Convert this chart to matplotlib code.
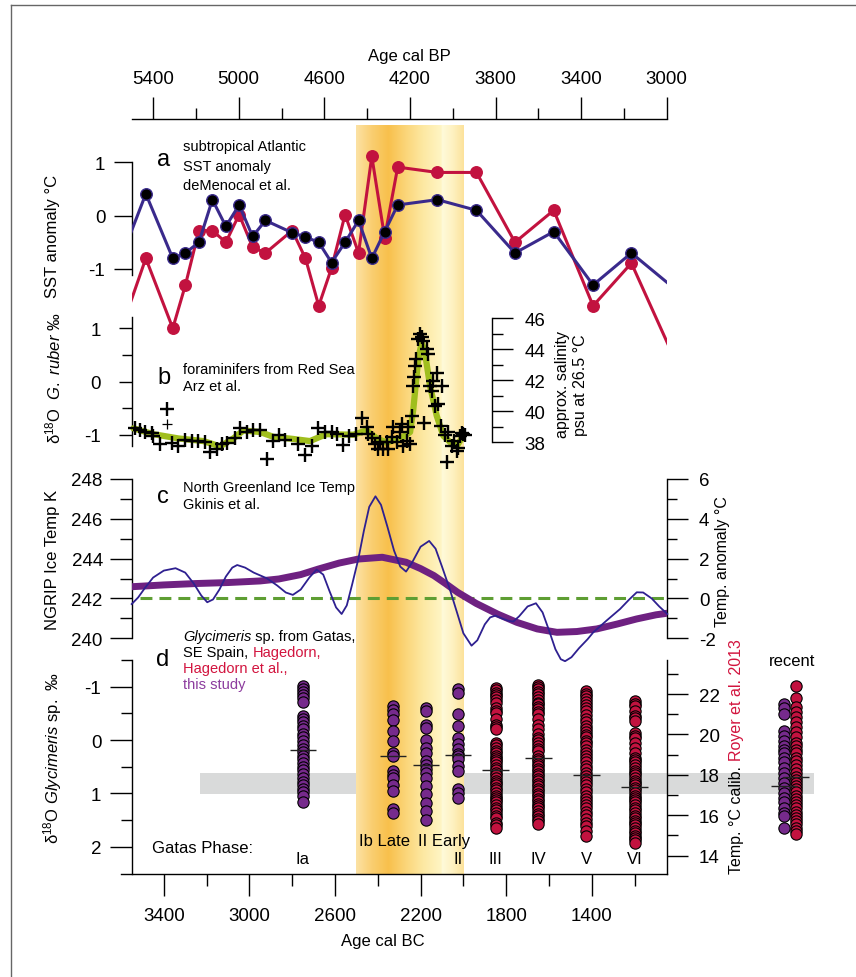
import numpy as np
import matplotlib
matplotlib.use('Agg')
import matplotlib.pyplot as plt
from matplotlib.patches import Rectangle
from matplotlib.lines import Line2D
from matplotlib.ticker import FixedLocator
from matplotlib.transforms import blended_transform_factory

plt.rcParams['font.family'] = ['Liberation Sans', 'DejaVu Sans']
plt.rcParams['axes.unicode_minus'] = False
plt.rcParams['mathtext.fontset'] = 'custom'
plt.rcParams['mathtext.rm'] = 'Liberation Sans'
plt.rcParams['mathtext.it'] = 'Liberation Sans:italic'

# ---------------- data ----------------
# x axis in years cal BC (cal BP = BC + 1950)
xlim_bc = (3550, 1050)
band_bc = (2500, 2000)

# panel a : subtropical Atlantic SST anomaly (first/last points: line only)
sst_blue_bc = [3600, 3484, 3358, 3299, 3236, 3173, 3110, 3048, 2985, 2925, 2800, 2738, 2676,
               2616, 2553, 2490, 2428, 2368, 2307, 2122, 1939, 1759, 1578, 1394, 1215, 1040]
sst_blue = [-0.80, 0.41, -0.80, -0.70, -0.50, 0.30, -0.20, 0.20, -0.39, -0.09, -0.32, -0.40, -0.50,
            -0.88, -0.50, -0.09, -0.80, -0.30, 0.20, 0.30, 0.10, -0.70, -0.30, -1.30, -0.70, -1.28]
sst_red_bc = [3600, 3484, 3358, 3299, 3236, 3173, 3110, 3048, 2985, 2925, 2800, 2738, 2676,
              2616, 2553, 2490, 2428, 2368, 2307, 2122, 1939, 1759, 1578, 1394, 1215, 1044]
sst_red = [-2.14, -0.80, -2.11, -1.30, -0.28, -0.28, -0.50, 0.02, -0.59, -0.70, -0.28, -0.80, -1.69,
           -0.98, 0.02, -0.70, 1.11, -0.41, 0.91, 0.81, 0.81, -0.50, 0.10, -1.69, -0.89, -2.41]

# panel b : d18O G. ruber, Red Sea
ruber_bc = [3535, 3511, 3488, 3457, 3449, 3418, 3363, 3332, 3301, 3270, 3239, 3207, 3184, 3153,
            3129, 3106, 3067, 3044, 3013, 2982, 2950, 2919, 2888, 2860, 2834, 2771, 2740, 2709,
            2678, 2647, 2615, 2592, 2564, 2533, 2502, 2475, 2449, 2444, 2429, 2413, 2398, 2390,
            2374, 2358, 2351, 2335, 2328, 2312, 2296, 2288, 2281, 2265, 2257, 2249, 2242, 2234,
            2230, 2226, 2221, 2211, 2203, 2195, 2187, 2185, 2172, 2164, 2156, 2149, 2141, 2133,
            2125, 2117, 2105, 2102, 2085, 2077, 2070, 2054, 2046, 2031, 2023, 2015, 2007, 2000, 1992]
ruber = [-0.88, -0.91, -0.95, -0.97, -1.02, -1.18, -1.16, -1.21, -1.10, -1.12, -1.12, -1.14, -1.32, -1.26,
         -1.18, -1.16, -1.07, -0.87, -0.95, -0.91, -0.91, -1.45, -1.12, -1.01, -1.10, -1.18, -1.39, -1.21,
         -0.88, -0.95, -0.95, -0.99, -1.20, -1.03, -0.99, -0.68, -0.85, -0.99, -1.07, -1.18, -1.27, -1.14,
         -1.27, -1.14, -1.27, -1.05, -0.85, -1.14, -0.95, -0.80, -1.22, -1.12, -0.86, -1.18, -0.64, -0.09,
         0.08, 0.29, 0.42, 0.80, 0.89, 0.83, 0.76, -0.78, 0.61, 0.51, -0.08, -0.17, 0.01, -0.46,
         0.16, -0.43, -0.84, -0.09, -1.01, -1.51, -0.95, -1.21, -1.12, -1.31, -1.25, -1.02, -0.96, -0.99, -1.01]
ruber_out_bc = [3386, 3386]
ruber_out = [-0.52, -0.80]
ruber_smooth_bc = [3542, 3449, 3332, 3215, 3137, 3075, 3028, 2950, 2888, 2795, 2717, 2670, 2639, 2514,
                   2452, 2405, 2358, 2281, 2249, 2234, 2211, 2195, 2180, 2156, 2125, 2094, 2062, 2031, 2000]
ruber_smooth = [-0.88, -0.99, -1.07, -1.12, -1.22, -1.07, -0.92, -0.95, -1.04, -1.08, -1.12, -1.04, -0.99, -1.00,
                -0.92, -1.07, -1.15, -1.04, -0.95, -0.52, 0.42, 0.73, 0.55, -0.08, -0.64, -1.02, -1.14, -1.21, -1.02]

# panel c : North Greenland ice temperature anomaly (K relative to 242 K)
ngrip_bc = [3550, 3520, 3490, 3450, 3400, 3345, 3300, 3260, 3225, 3197, 3170, 3140, 3110, 3080, 3057,
            3020, 2980, 2918, 2870, 2830, 2797, 2760, 2720, 2686, 2655, 2625, 2595, 2569, 2545, 2520,
            2491, 2465, 2440, 2411, 2385, 2355, 2324, 2295, 2268, 2240, 2200, 2160, 2130, 2100, 2064,
            2030, 2000, 1962, 1935, 1900, 1875, 1850, 1820, 1790, 1767, 1740, 1700, 1661, 1630, 1600,
            1570, 1545, 1525, 1495, 1460, 1420, 1393, 1330, 1268, 1225, 1190, 1160, 1120, 1085, 1047]
ngrip = [-0.28, 0.05, 0.50, 1.05, 1.40, 1.52, 1.30, 0.75, 0.15, -0.19, -0.05, 0.45, 1.10, 1.55, 1.68,
         1.55, 1.30, 1.01, 0.65, 0.30, 0.18, 0.45, 1.05, 1.45, 1.20, 0.35, -0.45, -0.78, -0.35, 0.70,
         1.98, 3.40, 4.60, 5.13, 4.70, 3.60, 2.40, 1.60, 1.35, 1.80, 2.60, 2.89, 2.50, 1.60, 0.48,
         -0.70, -1.75, -2.37, -2.10, -1.30, -0.95, -0.86, -1.00, -1.12, -1.16, -0.90, -0.40, -0.24, -0.70, -1.60,
         -2.55, -3.05, -3.15, -2.95, -2.50, -2.05, -1.70, -1.10, -0.53, -0.05, 0.31, 0.30, 0.00, -0.40, -0.78]
ngrip_smooth_bc = [3550, 3400, 3250, 3100, 2950, 2862, 2760, 2677, 2580, 2491, 2379, 2268, 2200, 2138,
                   2080, 2027, 1940, 1841, 1750, 1655, 1563, 1470, 1377, 1280, 1191, 1100, 1040]
ngrip_smooth = [0.59, 0.68, 0.75, 0.80, 0.88, 0.98, 1.20, 1.48, 1.78, 1.98, 2.07, 1.82, 1.50, 1.15,
                0.72, 0.31, -0.25, -0.78, -1.20, -1.53, -1.70, -1.66, -1.53, -1.28, -1.03, -0.82, -0.73]
ngrip_ref_kelvin = 242

# panel d : d18O Glycimeris sp. per Gatas phase
phase_bc = [2750, 2330, 2175, 2025, 1850, 1650, 1425, 1200]
phase_src = ['this', 'this', 'this', 'this', 'hag', 'hag', 'hag', 'hag']
gly_Ia = [-1.01, -0.96, -0.90, -0.84, -0.78, -0.72, -0.46, -0.40, -0.34, -0.27, -0.20, -0.12, -0.05, 0.02,
          0.09, 0.16, 0.22, 0.29, 0.36, 0.43, 0.50, 0.57, 0.64, 0.71, 0.78, 0.85, 0.92, 0.98, 1.05, 1.16]
gly_Ib = [-0.64, -0.56, -0.48, -0.38, -0.17, 0.02, 0.25, 0.30, 0.58, 0.66, 0.72, 0.85, 0.95, 1.30, 1.36]
gly_IIe = [-0.61, -0.54, -0.29, -0.22, -0.01, 0.14, 0.24, 0.39, 0.46, 0.55, 0.62, 0.71, 0.86, 1.02, 1.18, 1.33, 1.49]
gly_II = [-0.95, -0.88, -0.48, -0.26, -0.04, 0.08, 0.17, 0.27, 0.30, 0.36, 0.49, 0.58, 0.92, 1.00, 1.08]
gly_III = [-0.98, -0.94, -0.89, -0.85, -0.80, -0.75, -0.70, -0.61, -0.55, -0.51, -0.39, -0.29, -0.24, -0.20,
           0.05, 0.10, 0.14, 0.20, 0.24, 0.30, 0.33, 0.38, 0.42, 0.47, 0.52, 0.56, 0.61, 0.66, 0.71, 0.76,
           0.80, 0.85, 0.89, 0.94, 0.99, 1.04, 1.08, 1.13, 1.17, 1.22, 1.27, 1.31, 1.36, 1.42, 1.46, 1.55, 1.60, 1.64]
gly_IV = [-1.04, -0.99, -0.95, -0.90, -0.86, -0.80, -0.76, -0.70, -0.67, -0.62, -0.58, -0.52, -0.48, -0.39,
          -0.29, -0.20, -0.11, -0.04, -0.01, 0.05, 0.11, 0.16, 0.21, 0.30, 0.35, 0.39, 0.44, 0.49, 0.54, 0.58,
          0.63, 0.68, 0.73, 0.77, 0.82, 0.86, 0.91, 0.96, 1.01, 1.05, 1.10, 1.14, 1.19, 1.24, 1.28, 1.33, 1.38,
          1.43, 1.48, 1.52, 1.58]
gly_V = [-0.92, -0.87, -0.82, -0.77, -0.72, -0.66, -0.60, -0.54, -0.47, -0.40, -0.34, -0.27, -0.21, -0.15,
         -0.10, -0.05, 0.01, 0.06, 0.12, 0.18, 0.24, 0.30, 0.36, 0.42, 0.48, 0.55, 0.61, 0.67, 0.73, 0.79,
         0.85, 0.92, 0.98, 1.04, 1.10, 1.16, 1.22, 1.28, 1.34, 1.41, 1.48, 1.55, 1.62, 1.70, 1.80]
gly_VI = [-0.73, -0.68, -0.63, -0.54, -0.45, -0.42, -0.36, -0.14, -0.08, -0.04, 0.05, 0.14, 0.25, 0.33,
          0.38, 0.42, 0.47, 0.52, 0.58, 0.61, 0.66, 0.71, 0.76, 0.80, 0.85, 0.89, 0.94, 0.99, 1.04, 1.08,
          1.13, 1.17, 1.22, 1.27, 1.32, 1.36, 1.42, 1.46, 1.52, 1.55, 1.60, 1.64, 1.70, 1.74, 1.80, 1.83,
          1.88, 1.93]
phase_values = [gly_Ia, gly_Ib, gly_IIe, gly_II, gly_III, gly_IV, gly_V, gly_VI]
phase_medians = [0.19, 0.29, 0.47, 0.28, 0.57, 0.34, 0.66, 0.88]
phase_labels = ['Ia', 'Ib Late', 'II Early', 'II', 'III', 'IV', 'V', 'VI']
phase_label_bc = [2750, 2368, 2089, 2025, 1850, 1650, 1425, 1200]
phase_label_row = [0, 1, 1, 0, 0, 0, 0, 0]

recent_this = [-0.67, -0.60, -0.48, -0.17, -0.08, 0.02, 0.11, 0.18, 0.24, 0.33, 0.42, 0.52, 0.61, 0.71,
               0.80, 0.89, 0.99, 1.08, 1.17, 1.27, 1.36, 1.43, 1.64]
recent_hag = [-1.01, -0.78, -0.62, -0.52, -0.43, -0.33, -0.24, -0.15, -0.05, 0.05, 0.12, 0.18, 0.25, 0.33,
              0.40, 0.47, 0.55, 0.62, 0.69, 0.75, 0.80, 0.86, 0.92, 0.98, 1.04, 1.10, 1.16, 1.22, 1.28,
              1.34, 1.40, 1.46, 1.52, 1.58, 1.64, 1.70, 1.77]
recent_medians = [0.86, 0.69]
recent_band = (0.61, 1.02)   # grey reference band in d18O

# ---------------- style ----------------
W, H = 856, 978
BLUE = '#3A2A8C'
RED = '#C2123F'
PURPLE = '#762A8C'
LIME = '#A0BE1E'
GREEN = '#5E9E33'
THINBLUE = '#2E2090'
THICKPURPLE = '#6E2181'
TXTRED = '#D2143E'
TXTPURPLE = '#8C3C9E'
PT = 0.72  # points per pixel
TICK_FS = 13.5
LAB_FS = 12
ANN_FS = 10.5

fig = plt.figure(figsize=(W / 100, H / 100), dpi=100)


def add_ax(x0, y0, x1, y1, z=2):
    a = fig.add_axes([x0 / W, 1 - y1 / H, (x1 - x0) / W, (y1 - y0) / H])
    a.set_zorder(z)
    a.patch.set_visible(False)
    return a


def ylims(ya, yb, v1, y1, v2, y2):
    k = (v2 - v1) / (y2 - y1)
    return v1 + (yb - y1) * k, v1 + (ya - y1) * k


def P(x, y):
    return x / W, 1 - y / H


def clean(a, keep=()):
    for s in ['left', 'right', 'top', 'bottom']:
        a.spines[s].set_visible(s in keep)
        a.spines[s].set_linewidth(1.0)
    a.set_xticks([])


XL, XR = 131.7, 666.7

# ---- background: orange event band and grey band ----
ax_bg = add_ax(XL, 126, XR, 875, z=0)
ax_bg.axis('off')
stops_f = [0, 0.15, 0.30, 0.45, 0.62, 0.79, 0.80, 0.90, 1.0]
stops_c = np.array([(252, 226, 165), (250, 206, 112), (248, 192, 76), (251, 212, 118), (253, 232, 162),
                    (255, 245, 196), (255, 250, 218), (254, 241, 192), (252, 226, 155)]) / 255.0
ff = np.linspace(0, 1, 500)
grad = np.stack([np.interp(ff, stops_f, stops_c[:, i]) for i in range(3)], axis=-1)[None, :, :]
ax_bg.imshow(grad, extent=(band_bc[0], band_bc[1], 0, 1), aspect='auto', zorder=2, interpolation='bilinear')
ax_bg.set_xlim(*xlim_bc)
ax_bg.set_ylim(0, 1)

# ---- top axis (cal BP) ----
ax_top = add_ax(XL, 120, XR, 126, z=3)
clean(ax_top, keep=('top',))
ax_top.set_yticks([])
ax_top.set_xlim(xlim_bc[0] + 1950, xlim_bc[1] + 1950)
ax_top.xaxis.tick_top()
ax_top.set_xticks([5400, 5000, 4600, 4200, 3800, 3400, 3000])
ax_top.xaxis.set_minor_locator(FixedLocator([5200, 4800, 4400, 4000, 3600, 3200]))
ax_top.tick_params(axis='x', which='major', direction='out', length=22 * PT, width=1, labelsize=TICK_FS, pad=7)
ax_top.tick_params(axis='x', which='minor', direction='out', length=11 * PT, width=1)
fig.text(*P(409, 57), 'Age cal BP', ha='center', va='center', fontsize=LAB_FS)

# ---- panel a ----
ax_a = add_ax(XL, 130, XR, 350)
clean(ax_a, keep=('left',))
ax_a.set_xlim(*xlim_bc)
ax_a.set_ylim(*ylims(130, 350, 1, 163.3, -1, 270.0))
ax_a.spines['left'].set_bounds(-1.12, 1)
ax_a.set_yticks([1, 0, -1])
ax_a.tick_params(axis='y', direction='out', length=18 * PT, width=1, labelsize=TICK_FS, pad=6)
ax_a.plot(sst_red_bc, sst_red, color=RED, lw=2.2, zorder=3)
ax_a.plot(sst_red_bc[1:-1], sst_red[1:-1], 'o', color=RED, ms=8.3, zorder=4)
ax_a.plot(sst_blue_bc, sst_blue, color=BLUE, lw=2.2, zorder=5)
ax_a.plot(sst_blue_bc[1:-1], sst_blue[1:-1], 'o', mfc='black', mec=BLUE, mew=1.0, ms=8.3, zorder=6)
fig.text(*P(53, 236), 'SST anomaly °C', rotation=90, ha='center', va='center', fontsize=LAB_FS)
fig.text(*P(164, 160), 'a', ha='center', va='center', fontsize=17)
for txt, yy in zip(['subtropical Atlantic', 'SST anomaly', 'deMenocal et al.'], [147, 166.5, 185.5]):
    fig.text(*P(183, yy), txt, ha='left', va='center', fontsize=ANN_FS)

# ---- panel b ----
ax_b = add_ax(XL, 318, XR, 447)
clean(ax_b, keep=('left',))
ax_b.set_xlim(*xlim_bc)
ax_b.set_ylim(*ylims(318, 447, 1, 329.3, -1, 435.7))
ax_b.set_yticks([1, 0, -1])
ax_b.yaxis.set_minor_locator(FixedLocator([0.5, -0.5]))
ax_b.tick_params(axis='y', which='major', direction='out', length=13 * PT, width=1, labelsize=TICK_FS, pad=13)
ax_b.tick_params(axis='y', which='minor', direction='out', length=10 * PT, width=1)
ax_b.plot(ruber_smooth_bc, ruber_smooth, color=LIME, lw=4.5, solid_capstyle='round', zorder=3, clip_on=False)
ax_b.plot(ruber_bc, ruber, '+', color='black', ms=9.5, mew=1.7, zorder=4, clip_on=False)
ax_b.plot(ruber_out_bc[:1], ruber_out[:1], '+', color='black', ms=9.5, mew=1.7, zorder=4, clip_on=False)
ax_b.plot(ruber_out_bc[1:], ruber_out[1:], '+', color='black', ms=7, mew=0.9, zorder=4, clip_on=False)

ax_bs = add_ax(XL, 318, 492.3, 447)
clean(ax_bs, keep=('right',))
ax_bs.set_xlim(*xlim_bc)
ax_bs.set_ylim(*ylims(318, 447, 46, 319, 38, 443.3))
ax_bs.spines['right'].set_bounds(38, 46)
ax_bs.yaxis.tick_right()
ax_bs.set_yticks([46, 44, 42, 40, 38])
ax_bs.yaxis.set_minor_locator(FixedLocator([45, 43, 41, 39]))
ax_bs.tick_params(axis='y', which='major', direction='out', length=21 * PT, width=1, labelsize=TICK_FS, pad=8)
ax_bs.tick_params(axis='y', which='minor', direction='out', length=11 * PT, width=1)
fig.text(*P(572, 385), 'approx. salinity\npsu at 26.5 °C', rotation=90, ha='center', va='center',
         fontsize=11.5, linespacing=1.25, multialignment='center')
fig.text(*P(53, 378), r'δ$^{18}$O  $\it{G.\ ruber}$ ‰', rotation=90, ha='center', va='center', fontsize=LAB_FS)
fig.text(*P(164, 378), 'b', ha='center', va='center', fontsize=17)
for txt, yy in zip(['foraminifers from Red Sea', 'Arz et al.'], [370, 387]):
    fig.text(*P(183, yy), txt, ha='left', va='center', fontsize=ANN_FS)

# ---- panel c ----
ax_c = add_ax(XL, 480, XR, 639.3)
clean(ax_c, keep=('left',))
ax_c.set_xlim(*xlim_bc)
ax_c.set_ylim(240, 248)
ax_c.set_yticks([248, 246, 244, 242, 240])
ax_c.yaxis.set_minor_locator(FixedLocator([247, 245, 243, 241]))
ax_c.tick_params(axis='y', which='major', direction='out', length=22 * PT, width=1, labelsize=TICK_FS, pad=5)
ax_c.tick_params(axis='y', which='minor', direction='out', length=12 * PT, width=1)
ax_c2 = add_ax(XL, 480, XR, 639.3, z=3)
clean(ax_c2, keep=('right',))
ax_c2.set_xlim(*xlim_bc)
ax_c2.set_ylim(240 - ngrip_ref_kelvin, 248 - ngrip_ref_kelvin)
ax_c2.yaxis.tick_right()
ax_c2.set_yticks([6, 4, 2, 0, -2])
ax_c2.yaxis.set_minor_locator(FixedLocator([5, 3, 1, -1]))
ax_c2.tick_params(axis='y', which='major', direction='out', length=21 * PT, width=1, labelsize=TICK_FS, pad=8)
ax_c2.tick_params(axis='y', which='minor', direction='out', length=10 * PT, width=1)
ax_c2.plot([3510, xlim_bc[1]], [0, 0], color=GREEN, lw=2.2, ls=(0, (3.9, 2.3)), zorder=2)
ax_c2.plot(ngrip_smooth_bc, ngrip_smooth, color=THICKPURPLE, lw=5.0, solid_capstyle='butt', zorder=3)
ax_c2.plot(ngrip_bc, ngrip, color=THINBLUE, lw=1.3, zorder=4, clip_on=False, solid_joinstyle='round')
fig.text(*P(53, 560), 'NGRIP Ice Temp K', rotation=90, ha='center', va='center', fontsize=LAB_FS)
fig.text(*P(722, 562), 'Temp. anomaly °C', rotation=90, ha='center', va='center', fontsize=11.5)
fig.text(*P(163, 497), 'c', ha='center', va='center', fontsize=17)
for txt, yy in zip(['North Greenland Ice Temp', 'Gkinis et al.'], [488, 505]):
    fig.text(*P(183, yy), txt, ha='left', va='center', fontsize=ANN_FS)

# ---- panel d ----
ax_d = add_ax(XL, 660.7, XR, 875)
clean(ax_d, keep=('left', 'bottom'))
ax_d.set_xlim(*xlim_bc)
ax_d.set_ylim(*ylims(660.7, 875, -1, 687.7, 2, 847.7))
ax_d.spines['bottom'].set_bounds(3600, xlim_bc[1])
ax_d.set_yticks([-1, 0, 1, 2])
ax_d.yaxis.set_minor_locator(FixedLocator([-1.5, -0.5, 0.5, 1.5]))
ax_d.tick_params(axis='y', which='major', direction='out', length=22 * PT, width=1, labelsize=TICK_FS, pad=6)
ax_d.tick_params(axis='y', which='minor', direction='out', length=11 * PT, width=1)
ax_d.set_xticks([3400, 3000, 2600, 2200, 1800, 1400])
ax_d.xaxis.set_minor_locator(FixedLocator([3200, 2800, 2400, 2000, 1600, 1200]))
ax_d.tick_params(axis='x', which='major', direction='out', length=22 * PT, width=1, labelsize=TICK_FS, pad=8)
ax_d.tick_params(axis='x', which='minor', direction='out', length=12 * PT, width=1)

ax_d2 = add_ax(XL, 660.7, XR, 875, z=3)
clean(ax_d2, keep=('right',))
ax_d2.set_xlim(*xlim_bc)
ax_d2.set_ylim(*ylims(660.7, 875, 22, 695, 14, 856.7))
ax_d2.yaxis.tick_right()
ax_d2.set_yticks([14, 16, 18, 20, 22])
ax_d2.yaxis.set_minor_locator(FixedLocator([15, 17, 19, 21, 23]))
ax_d2.tick_params(axis='y', which='major', direction='out', length=21 * PT, width=1, labelsize=TICK_FS, pad=8)
ax_d2.tick_params(axis='y', which='minor', direction='out', length=11 * PT, width=1)

# grey reference band (behind orange band)
ax_bg.add_patch(Rectangle((3231, recent_band[0]), 361 - 3231, recent_band[1] - recent_band[0],
                          transform=ax_d.transData, facecolor='#D9DADA', edgecolor='none',
                          zorder=1, clip_on=False))

MS = 66
for bc, vals, src in zip(phase_bc, phase_values, phase_src):
    col = PURPLE if src == 'this' else RED
    ax_d.scatter([bc] * len(vals), vals, s=MS, c=col, edgecolors='black', linewidths=0.8, zorder=3)
ax_d.hlines(phase_medians, np.array(phase_bc) + 62, np.array(phase_bc) - 62, color='#222222', lw=1.0, zorder=4)

btr = blended_transform_factory(ax_d.transData, ax_d.transAxes)
for lab, bc, row in zip(phase_labels, phase_label_bc, phase_label_row):
    ax_d.text(bc, 0.07 if row == 0 else 0.155, lab, transform=btr, ha='center', va='center', fontsize=12, zorder=5)
fig.text(*P(152, 849), 'Gatas Phase:', ha='left', va='center', fontsize=12)

# recent column
ax_r = add_ax(760, 660.7, 820, 875)
ax_r.axis('off')
ax_r.set_xlim(-2.13, 3.13)
ax_r.set_ylim(*ylims(660.7, 875, -1, 687.7, 2, 847.7))
ax_r.scatter([0] * len(recent_this), recent_this, s=MS, c=PURPLE, edgecolors='black', linewidths=0.8, zorder=3)
ax_r.scatter([1] * len(recent_hag), recent_hag, s=MS, c=RED, edgecolors='black', linewidths=0.8, zorder=3)
ax_r.hlines(recent_medians, [-1.15, -0.15], [1.15, 2.15], color='#222222', lw=1.0, zorder=4)
fig.text(*P(792, 662), 'recent', ha='center', va='center', fontsize=12)

fig.text(*P(53, 758), r'δ$^{18}$O $\it{Glycimeris}$ sp.  ‰', rotation=90, ha='center', va='center', fontsize=LAB_FS)
t1 = fig.text(*P(737, 874), 'Temp. °C calib. ', rotation=90, ha='center', va='bottom', fontsize=11.5)
ax_d.annotate('Royer et al. 2013', xy=(0.5, 1), xycoords=t1, rotation=90, ha='center', va='bottom',
              fontsize=11.5, color=TXTRED, annotation_clip=False)
fig.text(*P(163, 660), 'd', ha='center', va='center', fontsize=17)
g1 = fig.text(*P(183, 644), 'Glycimeris', style='italic', ha='left', va='bottom', fontsize=ANN_FS)
ax_d.annotate(' sp. from Gatas,', xy=(1, 0), xycoords=g1, ha='left', va='bottom', fontsize=ANN_FS,
              annotation_clip=False)
g2 = fig.text(*P(183, 660), 'SE Spain, ', ha='left', va='bottom', fontsize=ANN_FS)
ax_d.annotate('Hagedorn,', xy=(1, 0), xycoords=g2, ha='left', va='bottom', fontsize=ANN_FS, color=TXTRED,
              annotation_clip=False)
fig.text(*P(183, 676), 'Hagedorn et al.,', ha='left', va='bottom', fontsize=ANN_FS, color=TXTRED)
fig.text(*P(183, 692), 'this study', ha='left', va='bottom', fontsize=ANN_FS, color=TXTPURPLE)

fig.text(*P(383, 942), 'Age cal BC', ha='center', va='center', fontsize=LAB_FS)

# figure frame
fig.add_artist(Line2D([11 / W, 11 / W], [0, 1 - 6 / H], transform=fig.transFigure, color='#666666', lw=1.0))
fig.add_artist(Line2D([11 / W, 1], [1 - 6 / H, 1 - 6 / H], transform=fig.transFigure, color='#666666', lw=1.0))

fig.savefig('out.png', dpi=100)
